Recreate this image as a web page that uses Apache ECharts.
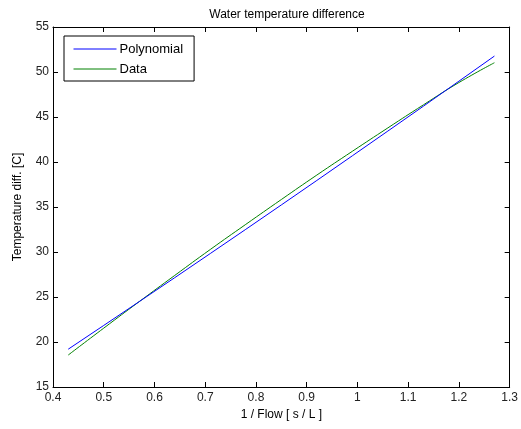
<!DOCTYPE html>
<html><head><meta charset="utf-8">
<script src="https://cdn.jsdelivr.net/npm/echarts@6/dist/echarts.min.js"></script>
<style>html,body{margin:0;padding:0;background:#fff}#c{width:521px;height:429px}</style>
</head><body><div id="c"></div>
<script>
var xValues = [0.43, 0.50, 0.57, 0.64, 0.71, 0.78, 0.85, 0.92, 0.99, 1.06, 1.13, 1.20, 1.27];
var polynomialValues = [19.2, 21.84, 24.49, 27.15, 29.83, 32.52, 35.23, 37.95, 40.69, 43.44, 46.20, 48.98, 51.77];
var dataValues = [18.55, 21.54, 24.49, 27.40, 30.28, 33.07, 35.83, 38.55, 41.19, 43.79, 46.35, 48.83, 51.03];
var titleText = 'Water temperature difference';
var xName = '1 / Flow [ s / L ]';
var yName = 'Temperature diff. [C]';

function pairs(xs, ys){ return xs.map(function(x,i){ return [x, ys[i]]; }); }
var font = 'Liberation Sans, Arial, sans-serif';
var axisCommon = {
  axisLine: {show: true, onZero: false, lineStyle: {color: '#000', width: 1}},
  axisTick: {show: true, inside: true, length: 5, lineStyle: {color: '#000'}},
  splitLine: {show: false}
};
var chart = echarts.init(document.getElementById('c'), null, {renderer: 'canvas'});
chart.setOption({
  animation: false,
  title: {text: titleText, left: 282, top: 4, textAlign: 'center',
    textStyle: {fontFamily: font, fontSize: 12, fontWeight: 'normal', color: '#000'}},
  grid: {left: 53, top: 27, right: 10, bottom: 42},
  legend: {
    orient: 'vertical', left: 64, top: 36,
    padding: [5, 11, 4, 9], itemWidth: 43, itemHeight: 14, itemGap: 4,
    borderColor: '#000', borderWidth: 1, backgroundColor: '#fff',
    itemStyle: {opacity: 0},
    lineStyle: {width: 1},
    textStyle: {fontFamily: font, fontSize: 13, color: '#000', padding: [0,0,0,-2], lineHeight: 16},
    data: ['Polynomial', 'Data']
  },
  xAxis: [
    Object.assign({type: 'value', min: 0.4, max: 1.3, interval: 0.1, position: 'bottom',
      name: xName, nameLocation: 'middle', nameGap: 22,
      nameTextStyle: {fontFamily: font, fontSize: 12, color: '#000'},
      axisLabel: {fontFamily: font, fontSize: 12, color: '#222', margin: 5,
        formatter: function(v){ return String(Math.round(v*10)/10); }}}, axisCommon),
    Object.assign({type: 'value', min: 0.4, max: 1.3, interval: 0.1, position: 'top',
      axisLabel: {show: false}}, axisCommon)
  ],
  yAxis: [
    Object.assign({type: 'value', min: 15, max: 55, interval: 5, position: 'left',
      name: yName, nameLocation: 'middle', nameGap: 29,
      nameTextStyle: {fontFamily: font, fontSize: 12, color: '#000'},
      axisLabel: {fontFamily: font, fontSize: 12, color: '#222', margin: 4}}, axisCommon),
    Object.assign({type: 'value', min: 15, max: 55, interval: 5, position: 'right',
      axisLabel: {show: false}}, axisCommon)
  ],
  series: [
    {name: 'Polynomial', type: 'line', symbol: 'none', smooth: false,
      data: pairs(xValues, polynomialValues), lineStyle: {color: '#0000ff', width: 1}, itemStyle: {color: '#0000ff'}, z: 3},
    {name: 'Data', type: 'line', symbol: 'none', smooth: true,
      data: pairs(xValues, dataValues), lineStyle: {color: '#008000', width: 1}, itemStyle: {color: '#008000'}, z: 2}
  ]
});
</script></body></html>
